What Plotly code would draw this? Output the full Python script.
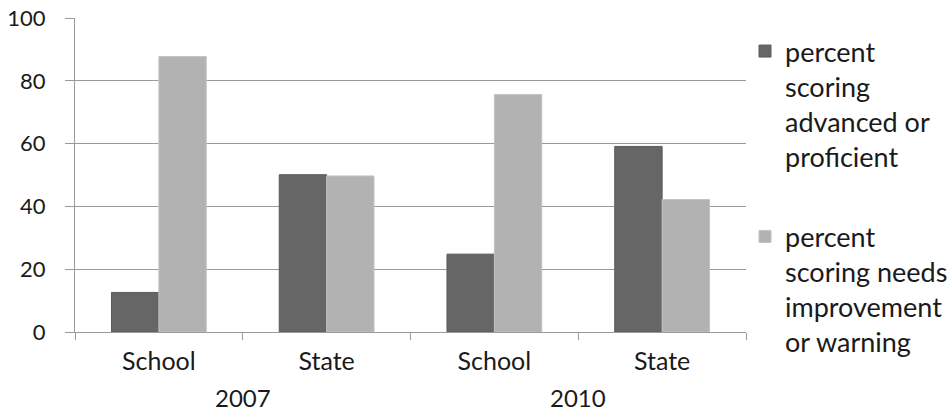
import plotly.graph_objects as go

# Test results by year and comparison group
years = ["2007", "2007", "2010", "2010"]
groups = ["School", "State", "School", "State"]
advanced_proficient = [12.6, 50.1, 24.8, 59.1]
needs_improvement = [87.7, 49.7, 75.6, 42.2]
y_ticks = [0, 20, 40, 60, 80, 100]

series_names = [
    "percent<br>scoring<br>advanced or<br>proficient",
    "percent<br>scoring needs<br>improvement<br>or warning",
]
series_colors = ["#666666", "#b2b2b2"]
series_edges = ["#5a5a5a", "#c2c2c2"]

font_family = "Lato, 'Open Sans', sans-serif"
text_color = "#1a1a1a"
grid_color = "#9a9a9a"

# one unique category per (year, group) pair; the group name is shown as tick text
categories = [f"{y} {g}" for y, g in zip(years, groups)]

fig = go.Figure()
for i, (name, vals, col, edge) in enumerate(zip(series_names,
                                               [advanced_proficient, needs_improvement],
                                               series_colors, series_edges)):
    fig.add_trace(go.Bar(
        x=categories,
        y=vals,
        name=name,
        legendgroup=f"g{i}",
        marker=dict(color=col, line=dict(color=edge, width=1)),
    ))

# year labels centred under each pair of categories
for yr in dict.fromkeys(years):
    idx = [i for i, y in enumerate(years) if y == yr]
    fig.add_annotation(
        x=sum(idx) / len(idx), xref="x",
        y=-(397 - 332) / 314, yref="paper", yanchor="middle",
        text=yr, showarrow=False,
        font=dict(size=24, color=text_color, family=font_family),
    )

fig.update_layout(
    width=952,
    height=413,
    margin=dict(l=75, r=206, t=18, b=81, autoexpand=False),
    paper_bgcolor="white",
    plot_bgcolor="white",
    barmode="group",
    bargap=0.435,
    bargroupgap=0,
    font=dict(family=font_family, size=24, color=text_color),
    showlegend=True,
    legend=dict(
        xref="container", x=745 / 952, xanchor="left",
        yref="container", y=1 - 27 / 413, yanchor="top",
        font=dict(size=27, color=text_color),
        valign="top",
        tracegroupgap=42,
        maxheight=1.0,
        bgcolor="rgba(0,0,0,0)",
    ),
)

fig.update_xaxes(
    type="category",
    tickvals=categories, ticktext=groups,
    showline=True, linecolor=grid_color, linewidth=1,
    ticks="outside", tickson="boundaries", ticklen=7, tickcolor=grid_color,
    ticklabelstandoff=7,
    showgrid=False,
    tickfont=dict(size=25, color=text_color),
    automargin=False,
)
fig.update_yaxes(
    range=[0, 100], tickvals=y_ticks,
    showline=True, linecolor=grid_color, linewidth=1,
    showgrid=True, gridcolor=grid_color, gridwidth=1,
    ticks="outside", ticklen=9, tickcolor=grid_color,
    ticklabelstandoff=15,
    tickfont=dict(size=22, color=text_color),
    zeroline=False,
    automargin=False,
)

fig.write_html("out.html")
